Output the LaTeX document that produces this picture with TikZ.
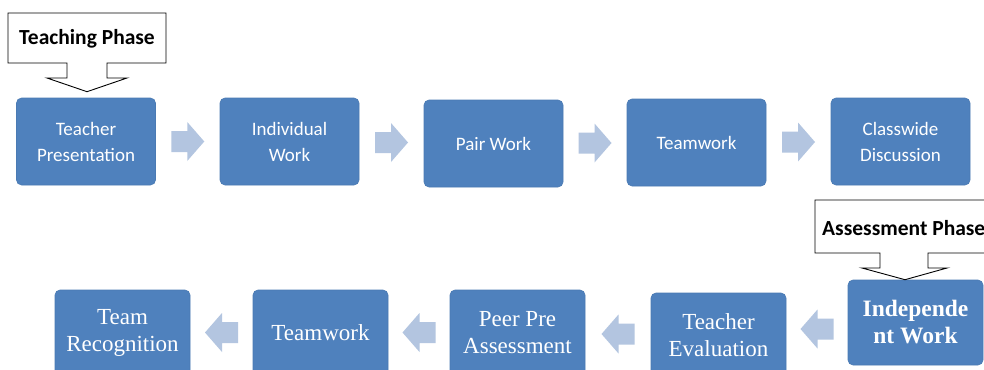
\documentclass[tikz,border=0pt]{standalone}
\usepackage{fontspec}
\setmainfont{Liberation Serif}
\newfontfamily\calfont{Carlito}
\usetikzlibrary{calc}
\definecolor{boxblue}{HTML}{4F81BD}
\definecolor{boxedge}{HTML}{4A7AB3}
\definecolor{arrowblue}{HTML}{B3C5E0}
\tikzset{
  topbox/.style={rectangle, rounded corners=5pt, fill=boxblue, draw=boxedge, line width=0.6pt,
    text=white, align=center, minimum width=139pt, minimum height=87pt, inner sep=2pt,
    font=\calfont\fontsize{19}{26}\selectfont},
  botbox/.style={rectangle, rounded corners=5pt, fill=boxblue, draw=boxedge, line width=0.6pt,
    text=white, align=center, minimum width=135pt, minimum height=85pt, inner sep=2pt,
    font=\fontsize{23}{27}\selectfont},
  bigbox/.style={botbox, font=\bfseries\fontsize{23.5}{27}\selectfont},
  callout/.style={fill=white, draw=black, line width=0.9pt, line join=miter},
  calltext/.style={font=\calfont\bfseries\fontsize{21.5}{24}\selectfont, inner sep=0pt},
  blockarrow/.style={fill=arrowblue},
}
\newcommand\rarr[1]{\fill[blockarrow] (#1) ++(-16.5,-10.5) -- ++(16,0) -- ++(0,-9) -- ++(17,19.5) -- ++(-17,19.5) -- ++(0,-9) -- ++(-16,0) -- cycle;}
\newcommand\larr[1]{\fill[blockarrow] (#1) ++(16.5,-10.5) -- ++(-16,0) -- ++(0,-9) -- ++(-17,19.5) -- ++(17,19.5) -- ++(0,-9) -- ++(16,0) -- cycle;}
\begin{document}
\begin{tikzpicture}[x=1pt,y=-1pt]
\useasboundingbox (0,0) rectangle (984,369);
\clip (0,0) rectangle (984,369);
\fill[white] (0,0) rectangle (984,369);

% top row
\node[topbox] (b1) at (86,141.5) {Teacher\\Presentation};
\node[topbox] (b2) at (289.5,141.5) {Individual\\Work};
\node[topbox] (b3) at (493.5,143.5) {Pair Work};
\node[topbox] (b4) at (696.5,142.5) {Teamwork};
\node[topbox] (b5) at (900.5,141.5) {Classwide\\Discussion};

\coordinate (a1) at ($(b1.east)!0.5!(b2.west)$);
\coordinate (a2) at ($(b2.east)!0.5!(b3.west)$);
\coordinate (a3) at ($(b3.east)!0.5!(b4.west)$);
\coordinate (a4) at ($(b4.east)!0.5!(b5.west)$);
\rarr{a1}\rarr{a2}\rarr{a3}\rarr{a4}

% bottom row
\node[bigbox] (c1) at (915.5,322.5) {Independe\\nt Work};
\node[botbox] (c2) at (718.5,335.5) {Teacher\\Evaluation};
\node[botbox] (c3) at (517.5,332.5) {Peer Pre\\Assessment};
\node[botbox] (c4) at (320.5,332.5) {Teamwork};
\node[botbox] (c5) at (122.5,332.5) {Team\\Recognition};

\coordinate (d1) at ($(c2.east)!0.5!(c1.west)$);
\coordinate (d2) at ($(c3.east)!0.5!(c2.west)$);
\coordinate (d3) at ($(c4.east)!0.5!(c3.west)$);
\coordinate (d4) at ($(c5.east)!0.5!(c4.west)$);
\larr{d1}\larr{d2}\larr{d3}\larr{d4}

% Teaching Phase callout
\coordinate (tpnw) at (8,13);
\coordinate (tpse) at (166,63);
\draw[callout] (tpnw) -- (166,13) -- (tpse) -- (107,63) -- (107,78) -- (127,78)
  -- ($(b1.north)+(1,-6)$) coordinate (tptip) -- (47,78) -- (67,78) -- (67,63) -- (8,63) -- cycle;
\node[calltext] (tp) at ($(tpnw)!0.5!(tpse)+(0,1)$) {Teaching Phase};

% Assessment Phase callout
\draw[callout] (815,200) -- (1000,200) -- (1000,253) -- (928,253) -- (928,268) -- (947,268)
  -- ($(c1.north)+(-10.5,0)$) coordinate (aptip) -- (862,268) -- (880,268) -- (880,253) -- (815,253) -- cycle;
\node[calltext, anchor=west] (ap) at (822,228) {Assessment Phase};
\end{tikzpicture}
\end{document}
